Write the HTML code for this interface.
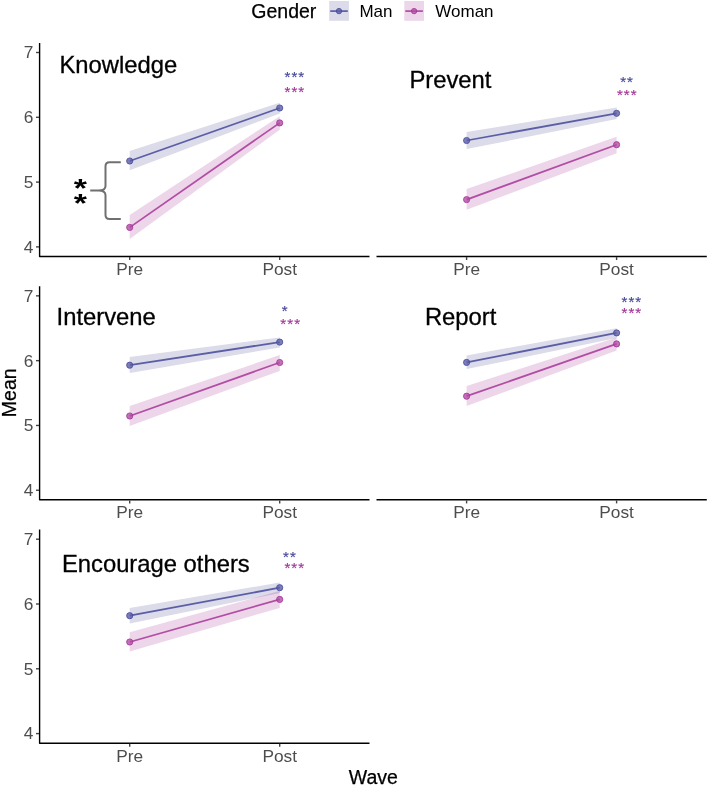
<!DOCTYPE html>
<html lang="en"><head><meta charset="utf-8"><title>Mean by Wave and Gender</title>
<style>html,body{margin:0;padding:0;background:#fff}svg{display:block}text{font-family:"Liberation Sans",Arial,Helvetica,sans-serif}.tk{font-size:17.3px;fill:#4d4d4d}.ti{font-size:23.8px;fill:#000;stroke:#000;stroke-width:0.3px}.at{font-size:19.5px;fill:#000;stroke:#000;stroke-width:0.25px}.lg{font-size:17px;fill:#000}.st{font-size:15px;text-anchor:middle;letter-spacing:1.05px;stroke-width:0.15px}</style></head><body>
<svg width="708" height="786" viewBox="0 0 708 786">
<rect width="708" height="786" fill="#fff"/>
<text class="at" x="251.3" y="18.4">Gender</text>
<rect x="329.2" y="1" width="19.7" height="19.8" fill="#dbdbe9"/>
<line x1="330.2" y1="11.1" x2="347.8" y2="11.1" stroke="#5b5ea6" stroke-width="1.7"/>
<circle cx="339.0" cy="11.1" r="2.7" fill="#5b5ea6" fill-opacity="0.8" stroke="#46479a" stroke-width="0.8"/>
<text class="lg" x="359.4" y="17.4">Man</text>
<rect x="404.3" y="1" width="19.7" height="19.8" fill="#edd6ea"/>
<line x1="405.3" y1="11.1" x2="422.9" y2="11.1" stroke="#b14da4" stroke-width="1.7"/>
<circle cx="414.1" cy="11.1" r="2.7" fill="#b14da4" fill-opacity="0.8" stroke="#a23597" stroke-width="0.8"/>
<text class="lg" x="435.3" y="17.4">Woman</text>
<g>
<polygon points="129.7,151.1 279.7,102.7 279.7,113.5 129.7,170.2" fill="#dbdbe9" style="mix-blend-mode:multiply"/>
<polygon points="129.7,214.9 279.7,116.2 279.7,129.7 129.7,238.9" fill="#edd6ea" style="mix-blend-mode:multiply"/>
<line x1="129.7" y1="161.0" x2="279.7" y2="108.0" stroke="#5b5ea6" stroke-width="1.75"/>
<circle cx="129.7" cy="161.0" r="3.1" fill="#5b5ea6" fill-opacity="0.8" stroke="#46479a" stroke-width="0.8"/>
<circle cx="279.7" cy="108.0" r="3.1" fill="#5b5ea6" fill-opacity="0.8" stroke="#46479a" stroke-width="0.8"/>
<line x1="129.7" y1="227.4" x2="279.7" y2="122.9" stroke="#b14da4" stroke-width="1.75"/>
<circle cx="129.7" cy="227.4" r="3.1" fill="#b14da4" fill-opacity="0.8" stroke="#a23597" stroke-width="0.8"/>
<circle cx="279.7" cy="122.9" r="3.1" fill="#b14da4" fill-opacity="0.8" stroke="#a23597" stroke-width="0.8"/>
<path d="M39.60,43.00 V256.45 H369.50" fill="none" stroke="#000" stroke-width="1.4" stroke-linejoin="round"/>
<line x1="36.00" y1="52.50" x2="39.00" y2="52.50" stroke="#444" stroke-width="1.4"/>
<text class="tk" x="33.3" y="58.3" text-anchor="end">7</text>
<line x1="36.00" y1="117.30" x2="39.00" y2="117.30" stroke="#444" stroke-width="1.4"/>
<text class="tk" x="33.3" y="123.1" text-anchor="end">6</text>
<line x1="36.00" y1="182.10" x2="39.00" y2="182.10" stroke="#444" stroke-width="1.4"/>
<text class="tk" x="33.3" y="187.9" text-anchor="end">5</text>
<line x1="36.00" y1="246.90" x2="39.00" y2="246.90" stroke="#444" stroke-width="1.4"/>
<text class="tk" x="33.3" y="252.7" text-anchor="end">4</text>
<line x1="129.70" y1="257.05" x2="129.70" y2="260.05" stroke="#444" stroke-width="1.4"/>
<text class="tk" x="129.7" y="274.9" text-anchor="middle">Pre</text>
<line x1="279.70" y1="257.05" x2="279.70" y2="260.05" stroke="#444" stroke-width="1.4"/>
<text class="tk" x="279.7" y="274.9" text-anchor="middle">Post</text>
<text class="ti" x="59.4" y="72.6">Knowledge</text>
<text class="st" x="294.9" y="81.8" fill="#46479a" stroke="#46479a">***</text>
<text class="st" x="294.9" y="97.0" fill="#a23597" stroke="#a23597">***</text>
</g>
<g>
<polygon points="466.6,132.1 616.6,107.5 616.6,119.0 466.6,149.1" fill="#dbdbe9" style="mix-blend-mode:multiply"/>
<polygon points="466.6,189.1 616.6,136.7 616.6,153.2 466.6,209.8" fill="#edd6ea" style="mix-blend-mode:multiply"/>
<line x1="466.6" y1="140.5" x2="616.6" y2="113.3" stroke="#5b5ea6" stroke-width="1.75"/>
<circle cx="466.6" cy="140.5" r="3.1" fill="#5b5ea6" fill-opacity="0.8" stroke="#46479a" stroke-width="0.8"/>
<circle cx="616.6" cy="113.3" r="3.1" fill="#5b5ea6" fill-opacity="0.8" stroke="#46479a" stroke-width="0.8"/>
<line x1="466.6" y1="199.6" x2="616.6" y2="144.7" stroke="#b14da4" stroke-width="1.75"/>
<circle cx="466.6" cy="199.6" r="3.1" fill="#b14da4" fill-opacity="0.8" stroke="#a23597" stroke-width="0.8"/>
<circle cx="616.6" cy="144.7" r="3.1" fill="#b14da4" fill-opacity="0.8" stroke="#a23597" stroke-width="0.8"/>
<line x1="376.50" y1="256.45" x2="706.80" y2="256.45" stroke="#000" stroke-width="1.4"/>
<line x1="466.60" y1="257.05" x2="466.60" y2="260.05" stroke="#444" stroke-width="1.4"/>
<text class="tk" x="466.6" y="274.9" text-anchor="middle">Pre</text>
<line x1="616.60" y1="257.05" x2="616.60" y2="260.05" stroke="#444" stroke-width="1.4"/>
<text class="tk" x="616.6" y="274.9" text-anchor="middle">Post</text>
<text class="ti" x="409.4" y="88.4">Prevent</text>
<text class="st" x="627.1" y="87.2" fill="#46479a" stroke="#46479a">**</text>
<text class="st" x="627.3" y="100.4" fill="#a23597" stroke="#a23597">***</text>
</g>
<g>
<polygon points="129.7,357.1 279.7,337.4 279.7,347.4 129.7,372.9" fill="#dbdbe9" style="mix-blend-mode:multiply"/>
<polygon points="129.7,405.9 279.7,355.1 279.7,370.9 129.7,425.9" fill="#edd6ea" style="mix-blend-mode:multiply"/>
<line x1="129.7" y1="365.2" x2="279.7" y2="342.1" stroke="#5b5ea6" stroke-width="1.75"/>
<circle cx="129.7" cy="365.2" r="3.1" fill="#5b5ea6" fill-opacity="0.8" stroke="#46479a" stroke-width="0.8"/>
<circle cx="279.7" cy="342.1" r="3.1" fill="#5b5ea6" fill-opacity="0.8" stroke="#46479a" stroke-width="0.8"/>
<line x1="129.7" y1="416.0" x2="279.7" y2="362.5" stroke="#b14da4" stroke-width="1.75"/>
<circle cx="129.7" cy="416.0" r="3.1" fill="#b14da4" fill-opacity="0.8" stroke="#a23597" stroke-width="0.8"/>
<circle cx="279.7" cy="362.5" r="3.1" fill="#b14da4" fill-opacity="0.8" stroke="#a23597" stroke-width="0.8"/>
<path d="M39.60,286.20 V499.80 H369.50" fill="none" stroke="#000" stroke-width="1.4" stroke-linejoin="round"/>
<line x1="36.00" y1="295.85" x2="39.00" y2="295.85" stroke="#444" stroke-width="1.4"/>
<text class="tk" x="33.3" y="301.7" text-anchor="end">7</text>
<line x1="36.00" y1="360.65" x2="39.00" y2="360.65" stroke="#444" stroke-width="1.4"/>
<text class="tk" x="33.3" y="366.5" text-anchor="end">6</text>
<line x1="36.00" y1="425.45" x2="39.00" y2="425.45" stroke="#444" stroke-width="1.4"/>
<text class="tk" x="33.3" y="431.3" text-anchor="end">5</text>
<line x1="36.00" y1="490.25" x2="39.00" y2="490.25" stroke="#444" stroke-width="1.4"/>
<text class="tk" x="33.3" y="496.1" text-anchor="end">4</text>
<line x1="129.70" y1="500.40" x2="129.70" y2="503.40" stroke="#444" stroke-width="1.4"/>
<text class="tk" x="129.7" y="518.3" text-anchor="middle">Pre</text>
<line x1="279.70" y1="500.40" x2="279.70" y2="503.40" stroke="#444" stroke-width="1.4"/>
<text class="tk" x="279.7" y="518.3" text-anchor="middle">Post</text>
<text class="ti" x="56.6" y="324.6">Intervene</text>
<text class="st" x="285.1" y="316.0" fill="#46479a" stroke="#46479a">*</text>
<text class="st" x="290.7" y="329.1" fill="#a23597" stroke="#a23597">***</text>
</g>
<g>
<polygon points="466.6,355.4 616.6,328.2 616.6,338.1 466.6,369.1" fill="#dbdbe9" style="mix-blend-mode:multiply"/>
<polygon points="466.6,386.1 616.6,337.6 616.6,350.6 466.6,406.1" fill="#edd6ea" style="mix-blend-mode:multiply"/>
<line x1="466.6" y1="362.4" x2="616.6" y2="332.9" stroke="#5b5ea6" stroke-width="1.75"/>
<circle cx="466.6" cy="362.4" r="3.1" fill="#5b5ea6" fill-opacity="0.8" stroke="#46479a" stroke-width="0.8"/>
<circle cx="616.6" cy="332.9" r="3.1" fill="#5b5ea6" fill-opacity="0.8" stroke="#46479a" stroke-width="0.8"/>
<line x1="466.6" y1="396.2" x2="616.6" y2="343.9" stroke="#b14da4" stroke-width="1.75"/>
<circle cx="466.6" cy="396.2" r="3.1" fill="#b14da4" fill-opacity="0.8" stroke="#a23597" stroke-width="0.8"/>
<circle cx="616.6" cy="343.9" r="3.1" fill="#b14da4" fill-opacity="0.8" stroke="#a23597" stroke-width="0.8"/>
<line x1="376.50" y1="499.80" x2="706.80" y2="499.80" stroke="#000" stroke-width="1.4"/>
<line x1="466.60" y1="500.40" x2="466.60" y2="503.40" stroke="#444" stroke-width="1.4"/>
<text class="tk" x="466.6" y="518.3" text-anchor="middle">Pre</text>
<line x1="616.60" y1="500.40" x2="616.60" y2="503.40" stroke="#444" stroke-width="1.4"/>
<text class="tk" x="616.6" y="518.3" text-anchor="middle">Post</text>
<text class="ti" x="424.9" y="325.2">Report</text>
<text class="st" x="631.9" y="307.2" fill="#46479a" stroke="#46479a">***</text>
<text class="st" x="631.9" y="318.1" fill="#a23597" stroke="#a23597">***</text>
</g>
<g>
<polygon points="129.7,607.9 279.7,582.6 279.7,593.0 129.7,623.5" fill="#dbdbe9" style="mix-blend-mode:multiply"/>
<polygon points="129.7,632.2 279.7,591.0 279.7,607.9 129.7,651.4" fill="#edd6ea" style="mix-blend-mode:multiply"/>
<line x1="129.7" y1="615.7" x2="279.7" y2="587.7" stroke="#5b5ea6" stroke-width="1.75"/>
<circle cx="129.7" cy="615.7" r="3.1" fill="#5b5ea6" fill-opacity="0.8" stroke="#46479a" stroke-width="0.8"/>
<circle cx="279.7" cy="587.7" r="3.1" fill="#5b5ea6" fill-opacity="0.8" stroke="#46479a" stroke-width="0.8"/>
<line x1="129.7" y1="642.0" x2="279.7" y2="599.4" stroke="#b14da4" stroke-width="1.75"/>
<circle cx="129.7" cy="642.0" r="3.1" fill="#b14da4" fill-opacity="0.8" stroke="#a23597" stroke-width="0.8"/>
<circle cx="279.7" cy="599.4" r="3.1" fill="#b14da4" fill-opacity="0.8" stroke="#a23597" stroke-width="0.8"/>
<path d="M39.60,529.50 V743.20 H369.50" fill="none" stroke="#000" stroke-width="1.4" stroke-linejoin="round"/>
<line x1="36.00" y1="539.20" x2="39.00" y2="539.20" stroke="#444" stroke-width="1.4"/>
<text class="tk" x="33.3" y="545.0" text-anchor="end">7</text>
<line x1="36.00" y1="604.00" x2="39.00" y2="604.00" stroke="#444" stroke-width="1.4"/>
<text class="tk" x="33.3" y="609.8" text-anchor="end">6</text>
<line x1="36.00" y1="668.80" x2="39.00" y2="668.80" stroke="#444" stroke-width="1.4"/>
<text class="tk" x="33.3" y="674.6" text-anchor="end">5</text>
<line x1="36.00" y1="733.60" x2="39.00" y2="733.60" stroke="#444" stroke-width="1.4"/>
<text class="tk" x="33.3" y="739.4" text-anchor="end">4</text>
<line x1="129.70" y1="743.80" x2="129.70" y2="746.80" stroke="#444" stroke-width="1.4"/>
<text class="tk" x="129.7" y="761.7" text-anchor="middle">Pre</text>
<line x1="279.70" y1="743.80" x2="279.70" y2="746.80" stroke="#444" stroke-width="1.4"/>
<text class="tk" x="279.7" y="761.7" text-anchor="middle">Post</text>
<text class="ti" x="61.9" y="571.6">Encourage others</text>
<text class="st" x="290.0" y="562.1" fill="#46479a" stroke="#46479a">**</text>
<text class="st" x="294.8" y="573.2" fill="#a23597" stroke="#a23597">***</text>
</g>
<path d="M120.8,162.3 H109.5 Q105.5,162.3 105.5,166.3 V186 Q105.5,190.6 98.5,190.6 H90.2 H98.5 Q105.5,190.6 105.5,195.2 V214.9 Q105.5,218.9 109.5,218.9 H120.8" fill="none" stroke="#707070" stroke-width="2"/>
<text transform="translate(80.4,196.7) scale(1.13,0.88)" x="0" y="0" text-anchor="middle" style="font-size:30px;font-weight:bold;fill:#000">*</text>
<text transform="translate(80.4,211.8) scale(1.13,0.88)" x="0" y="0" text-anchor="middle" style="font-size:30px;font-weight:bold;fill:#000">*</text>
<text class="at" x="373.3" y="783.7" text-anchor="middle">Wave</text>
<text class="at" transform="translate(15.9,392.8) rotate(-90)" text-anchor="middle">Mean</text>
</svg></body></html>
